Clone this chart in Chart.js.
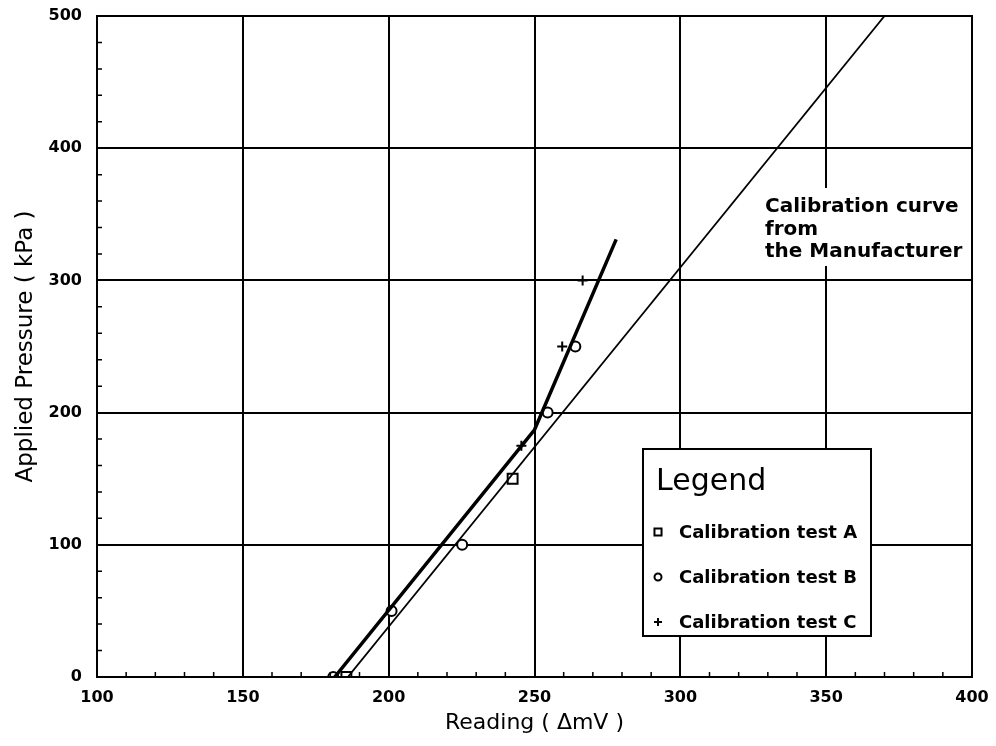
<!DOCTYPE html>
<html>
<head>
<meta charset="utf-8">
<script src="https://cdn.jsdelivr.net/npm/chart.js@4/dist/chart.umd.min.js"></script>
<style>
  html, body { margin: 0; padding: 0; background: #fff; }
  canvas { display: block; }
</style>
</head>
<body>
<canvas id="c" width="996" height="746"></canvas>
<script>
// Calibration readings (mV) and applied pressures (kPa)
const readingA = [185.5, 242.5];
const pressureA = [0, 150];
const readingB = [181, 201, 225.2, 254.5, 264];
const pressureB = [0, 50, 100, 200, 250];
const readingC = [245.5, 259.5, 266.5];
const pressureC = [175, 250, 300];

// Fitted curve through the calibration tests
const fitReading = [181.5, 250, 278];
const fitPressure = [0, 187, 331];

// Manufacturer's calibration curve
const makerReading = [186, 370];
const makerPressure = [0, 500];

const xTicks = [100, 150, 200, 250, 300, 350, 400];
const yTicks = [0, 100, 200, 300, 400, 500];
const seriesNames = ['Calibration test A', 'Calibration test B', 'Calibration test C'];
const noteLines = ['Calibration curve', 'from', 'the Manufacturer'];

const pts = (xs, ys) => xs.map((x, i) => ({ x, y: ys[i] }));

// Minor ticks, frame, legend box and the manufacturer note
const decorations = {
  id: 'decorations',
  afterDraw(chart) {
    const { ctx, chartArea: a, scales: { x, y } } = chart;
    ctx.save();
    ctx.strokeStyle = '#000';
    ctx.fillStyle = '#000';

    // inward minor ticks
    ctx.lineWidth = 1.5;
    ctx.beginPath();
    for (let v = 110; v < 400; v += 10) {
      if (v % 50 === 0) continue;
      const px = x.getPixelForValue(v);
      ctx.moveTo(px, a.bottom);
      ctx.lineTo(px, a.bottom - 5);
    }
    for (let v = 20; v < 500; v += 20) {
      if (v % 100 === 0) continue;
      const py = y.getPixelForValue(v);
      ctx.moveTo(a.left, py);
      ctx.lineTo(a.left + 5, py);
    }
    ctx.stroke();

    // frame
    ctx.lineWidth = 2;
    ctx.strokeRect(a.left, a.top, a.right - a.left, a.bottom - a.top);

    // note about the manufacturer curve
    ctx.fillStyle = '#fff';
    ctx.fillRect(758, 188, 200, 78);
    ctx.fillStyle = '#000';
    ctx.font = 'bold 20px "DejaVu Sans"';
    ctx.textAlign = 'left';
    ctx.textBaseline = 'alphabetic';
    noteLines.forEach((t, i) => ctx.fillText(t, 765, 212 + i * 22.5));

    // legend box
    const bx = 643, by = 449, bw = 228, bh = 187;
    ctx.fillStyle = '#fff';
    ctx.fillRect(bx, by, bw, bh);
    ctx.lineWidth = 2;
    ctx.strokeRect(bx, by, bw, bh);
    ctx.fillStyle = '#000';
    ctx.font = '30px "DejaVu Sans"';
    ctx.fillText('Legend', 656, 490);
    ctx.font = 'bold 18px "DejaVu Sans"';
    ctx.textBaseline = 'middle';
    const styles = ['rect', 'circle', 'cross'];
    const radii = [5, 3.5, 4];
    seriesNames.forEach((name, i) => {
      const cy = 532 + i * 45;
      ctx.lineWidth = 2;
      ctx.strokeStyle = '#000';
      ctx.fillStyle = '#fff';
      Chart.helpers.drawPoint(ctx, { pointStyle: styles[i], radius: radii[i], rotation: 0, borderWidth: 2 }, 658, cy);
      ctx.fillStyle = '#000';
      ctx.fillText(name, 679, cy + 1);
    });
    ctx.restore();
  }
};

const markerBase = {
  showLine: false,
  borderColor: '#000',
  backgroundColor: '#fff',
  pointBorderWidth: 2,
};

new Chart(document.getElementById('c'), {
  type: 'scatter',
  data: {
    datasets: [
      { label: 'fit', data: pts(fitReading, fitPressure), showLine: true, borderColor: '#000', borderWidth: 3.5, pointRadius: 0, tension: 0 },
      { label: 'manufacturer', data: pts(makerReading, makerPressure), showLine: true, borderColor: '#000', borderWidth: 1.8, pointRadius: 0, tension: 0 },
      { ...markerBase, label: seriesNames[0], data: pts(readingA, pressureA), pointStyle: 'rect', pointRadius: 7 },
      { ...markerBase, label: seriesNames[1], data: pts(readingB, pressureB), pointStyle: 'circle', pointRadius: 5 },
      { ...markerBase, label: seriesNames[2], data: pts(readingC, pressureC), pointStyle: 'cross', pointRadius: 5 },
    ]
  },
  options: {
    responsive: false,
    animation: false,
    layout: { padding: { left: 0, right: 24, top: 16, bottom: 0 } },
    plugins: { legend: { display: false }, tooltip: { enabled: false } },
    scales: {
      x: {
        type: 'linear',
        min: 100, max: 400,
        afterBuildTicks: s => { s.ticks = xTicks.map(v => ({ value: v })); },
        afterFit: s => { s.height = 69; s.paddingLeft = 0; s.paddingRight = 0; },
        grid: { color: '#000', lineWidth: 2, drawTicks: false },
        border: { color: '#000', width: 2 },
        ticks: { color: '#000', font: { family: 'DejaVu Sans', weight: 'bold', size: 16 }, padding: 11, maxRotation: 0 },
        title: { display: true, text: 'Reading ( ΔmV )', color: '#000', font: { family: 'DejaVu Sans', size: 22 }, padding: { top: 0, bottom: 10 } }
      },
      y: {
        type: 'linear',
        min: 0, max: 500,
        afterBuildTicks: s => { s.ticks = yTicks.map(v => ({ value: v })); },
        afterFit: s => { s.width = 97; s.paddingTop = 0; s.paddingBottom = 0; },
        grid: { color: '#000', lineWidth: 2, drawTicks: false },
        border: { color: '#000', width: 2 },
        ticks: { color: '#000', font: { family: 'DejaVu Sans', weight: 'bold', size: 16 }, padding: 15 },
        title: { display: true, text: 'Applied Pressure ( kPa )', color: '#000', font: { family: 'DejaVu Sans', size: 23 }, padding: { top: 12, bottom: 0 } }
      }
    }
  },
  plugins: [decorations]
});
</script>
</body>
</html>
